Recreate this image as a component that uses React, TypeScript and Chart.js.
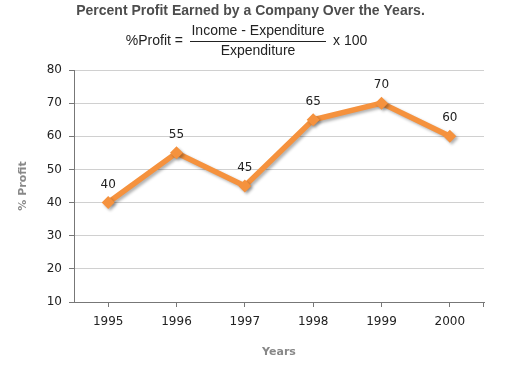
import React, { useEffect, useRef } from "react";
import { Chart, registerables } from "chart.js";

Chart.register(...registerables);

const categories = ["1995", "1996", "1997", "1998", "1999", "2000"];
const profitValues = [40, 55, 45, 65, 70, 60];
const yTicks = { min: 10, max: 80, step: 10 };
const titleText = "Percent Profit Earned by a Company Over the Years.";
const formulaLeft = "%Profit =";
const formulaNum = "Income - Expenditure";
const formulaDen = "Expenditure";
const formulaRight = "x 100";

const headerPlugin = {
  id: "header",
  afterDraw(chart: any) {
    const ctx = chart.ctx;
    ctx.save();
    ctx.textBaseline = "middle";
    ctx.fillStyle = "#4d4d4d";
    ctx.font = "bold 14px 'Liberation Sans', Arial, sans-serif";
    ctx.textAlign = "center";
    ctx.fillText(titleText, 250.5, 11);

    ctx.fillStyle = "#222";
    ctx.font = "14px 'Liberation Sans', Arial, sans-serif";
    ctx.textAlign = "right";
    ctx.fillText(formulaLeft, 183, 41);
    ctx.textAlign = "center";
    ctx.fillText(formulaNum, 258, 31);
    ctx.fillText(formulaDen, 258, 51);
    ctx.strokeStyle = "#222";
    ctx.lineWidth = 1;
    ctx.beginPath();
    ctx.moveTo(190, 41.5);
    ctx.lineTo(326, 41.5);
    ctx.stroke();
    ctx.textAlign = "left";
    ctx.fillText(formulaRight, 333, 41);

    // closing tick at the right end of the x axis
    const a = chart.chartArea;
    ctx.strokeStyle = "#777";
    ctx.beginPath();
    ctx.moveTo(Math.round(a.right) - 0.5, a.bottom);
    ctx.lineTo(Math.round(a.right) - 0.5, a.bottom + 5);
    ctx.stroke();
    ctx.restore();
  },
};

const shadowPlugin = {
  id: "lineShadow",
  beforeDatasetDraw(chart: any) {
    const ctx = chart.ctx;
    ctx.save();
    ctx.shadowColor = "rgba(0,0,0,0.3)";
    ctx.shadowBlur = 3;
    ctx.shadowOffsetX = 2;
    ctx.shadowOffsetY = 2;
  },
  afterDatasetDraw(chart: any) {
    chart.ctx.restore();
  },
};

const labelPlugin = {
  id: "valueLabels",
  afterDatasetsDraw(chart: any) {
    const ctx = chart.ctx;
    const meta = chart.getDatasetMeta(0);
    ctx.save();
    ctx.fillStyle = "#222";
    ctx.font = "12px 'DejaVu Sans', Verdana, sans-serif";
    ctx.textAlign = "center";
    ctx.textBaseline = "middle";
    meta.data.forEach((pt: any, i: number) => {
      ctx.fillText(String(profitValues[i]), pt.x, pt.y - 18);
    });
    ctx.restore();
  },
};

export default function App() {
  const ref = useRef<HTMLCanvasElement>(null);
  useEffect(() => {
    document.body.style.margin = "0";
    const chart = new Chart(ref.current!, {
      type: "line",
      data: {
        labels: categories,
        datasets: [
          {
            data: profitValues,
            borderColor: "#f5923e",
            backgroundColor: "#f5923e",
            borderWidth: 5.5,
            pointStyle: "rectRot",
            pointRadius: 6.5,
            pointHoverRadius: 6.5,
            pointBorderWidth: 0,
            tension: 0,
          },
        ],
      },
      options: {
        animation: false,
        responsive: false,
        layout: { padding: { left: 17, top: 70, right: 35, bottom: 8 } },
        plugins: { legend: { display: false }, tooltip: { enabled: false } },
        scales: {
          x: {
            offset: true,
            grid: {
              drawOnChartArea: false,
              tickLength: 5,
              color: "#777",
            },
            border: { color: "#777", width: 1 },
            ticks: {
              color: "#222",
              padding: 8,
              font: { family: "'DejaVu Sans', Verdana, sans-serif", size: 12 },
              maxRotation: 0,
            },
            title: {
              display: true,
              text: "Years",
              color: "#888",
              font: { family: "'DejaVu Sans', Verdana, sans-serif", size: 11, weight: "bold" },
              padding: 0,
            },
            afterFit(scale: any) {
              scale.height = 57;
            },
          },
          y: {
            min: yTicks.min,
            max: yTicks.max,
            grid: {
              color: "#d0d0d0",
              tickLength: 5,
              tickColor: "#777",
            },
            border: { color: "#777", width: 1 },
            ticks: {
              stepSize: yTicks.step,
              color: "#222",
              padding: 7,
              font: { family: "'DejaVu Sans', Verdana, sans-serif", size: 12 },
            },
            title: {
              display: true,
              text: "% Profit",
              color: "#888",
              font: { family: "'DejaVu Sans', Verdana, sans-serif", size: 11, weight: "bold" },
              padding: 0,
            },
            afterFit(scale: any) {
              scale.width = 57;
            },
          },
        },
      },
      plugins: [headerPlugin, shadowPlugin, labelPlugin],
    } as any);
    return () => chart.destroy();
  }, []);
  return (
    <div style={{ position: "absolute", left: 0, top: 0, width: 519, height: 367 }}>
      <canvas ref={ref} width={519} height={367} style={{ width: 519, height: 367 }} />
    </div>
  );
}
